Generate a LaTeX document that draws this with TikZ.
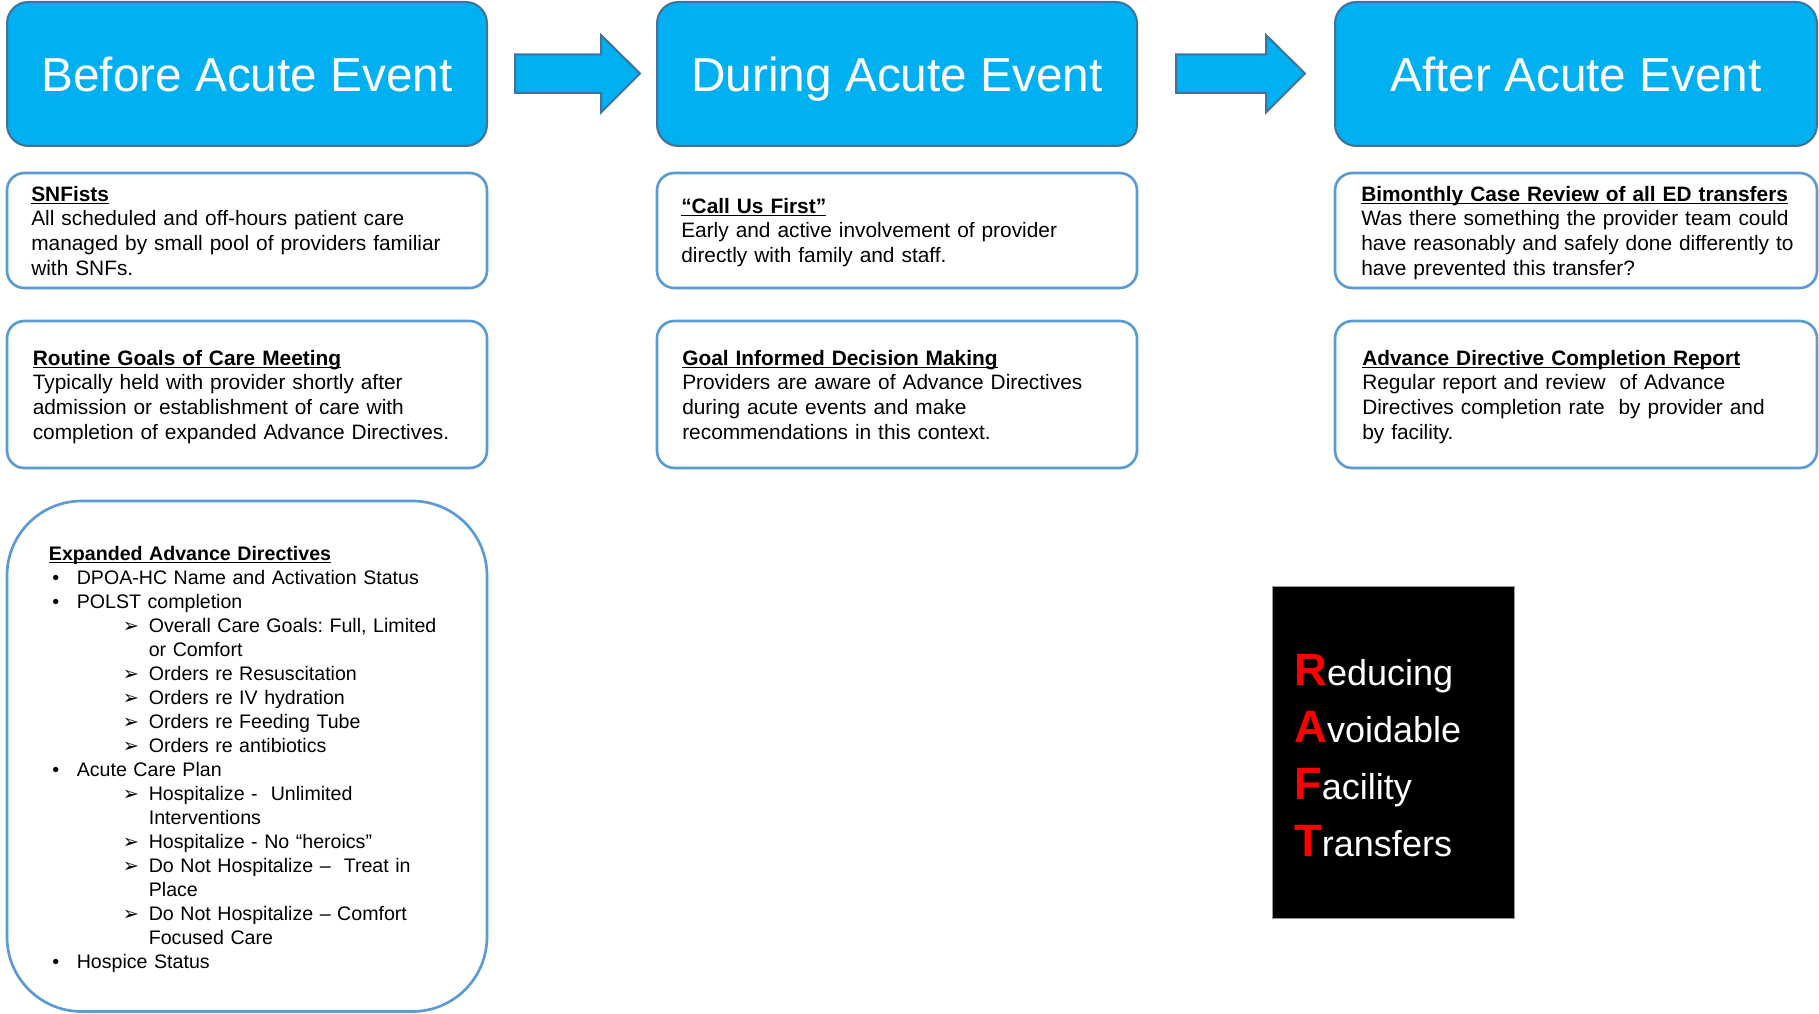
\documentclass[tikz,border=0pt]{standalone}
\usepackage{fontspec}
\setmainfont{Liberation Sans}
\newfontfamily\arrowfont{DejaVu Sans}
\frenchspacing
\definecolor{hdrfill}{HTML}{00B0F0}
\definecolor{hdrline}{HTML}{41719C}
\definecolor{boxline}{HTML}{5B9BD5}
\definecolor{raftred}{HTML}{FF0000}
\newcommand\myul[1]{\setbox0\hbox{#1}\rlap{\rule[-2.6pt]{\wd0}{1.1pt}}\box0}
\newcommand\mbul{\hspace*{2.5pt}\makebox[18.4pt][l]{•}}
\newcommand\marr{\hspace*{55.5pt}\makebox[19.4pt][l]{\arrowfont\fontsize{14.5}{14.5}\selectfont\raisebox{-0.4pt}{➢}}}
\newcommand\mcont{\hspace*{74.9pt}}
\tikzset{
  hdrbox/.style={draw=hdrline, fill=hdrfill, line width=1.5pt, rounded corners=16pt},
  blockarrow/.style={draw=hdrline, fill=hdrfill, line width=1.5pt},
  infobox/.style={draw=boxline, line width=2pt, rounded corners=13pt},
  hdrtext/.style={text=white, font=\fontsize{35.8}{43}\selectfont, anchor=base, inner sep=0pt},
  bodytext/.style={anchor=base west, inner sep=0pt, text width=480pt, align=left, font=\fontsize{15.65}{18.5}\selectfont\frenchspacing},
  listtext/.style={anchor=base west, inner sep=0pt, text width=480pt, align=left, font=\fontsize{14.7}{18}\selectfont\frenchspacing},
  rafttext/.style={anchor=base west, inner sep=0pt, text width=200pt, align=left, text=white, font=\fontsize{27}{42.75}\selectfont},
}
\newcommand\rl[1]{\textcolor{raftred}{\fontsize{34}{40}\selectfont\bfseries #1}}
\begin{document}
\begin{tikzpicture}[x=0.75pt, y=-0.75pt]
\useasboundingbox (0,0) rectangle (1819,1013);
% headers
\draw[hdrbox] (7,2) rectangle (487,146);
\draw[hdrbox] (657,2) rectangle (1137,146);
\draw[hdrbox] (1335,2) rectangle (1817,146);
\node[hdrtext] (h1) at (247,91.5) {Before Acute Event};
\node[hdrtext] (h2) at (897,91.5) {During Acute Event};
\node[hdrtext] (h3) at (1576,91.5) {After Acute Event};
% block arrows
\draw[blockarrow] (515,54.5) -- (601,54.5) -- (601,35) -- (640,73.5) -- (601,112.5) -- (601,93) -- (515,93) -- cycle;
\draw[blockarrow] (1176,54.5) -- (1266,54.5) -- (1266,35) -- (1305,73.5) -- (1266,112.5) -- (1266,93) -- (1176,93) -- cycle;
% row 2 boxes
\draw[infobox] (7,173) rectangle (487,288);
\draw[infobox] (657,173) rectangle (1137,288);
\draw[infobox] (1335,173) rectangle (1817,288);
\node[bodytext] (t11) at (31,201) {\myul{\textbf{SNFists}}\\
All scheduled and off-hours patient care\\
managed by small pool of providers familiar\\
with SNFs.};
\node[bodytext] (t12) at (681,213) {\myul{\textbf{“Call Us First”}}\\
Early and active involvement of provider\\
directly with family and staff.};
\node[bodytext] (t13) at (1361,201) {\myul{\textbf{Bimonthly Case Review of all ED transfers}}\\
Was there something the provider team could\\
have reasonably and safely done differently to\\
have prevented this transfer?};
% row 3 boxes
\draw[infobox] (7,321) rectangle (487,468);
\draw[infobox] (657,321) rectangle (1137,468);
\draw[infobox] (1335,321) rectangle (1817,468);
\node[bodytext] (t21) at (32.5,365) {\myul{\textbf{Routine Goals of Care Meeting}}\\
Typically held with provider shortly after\\
admission or establishment of care with\\
completion of expanded Advance Directives.};
\node[bodytext] (t22) at (682,365) {\myul{\textbf{Goal Informed Decision Making}}\\
Providers are aware of Advance Directives\\
during acute events and make\\
recommendations in this context.};
\node[bodytext] (t23) at (1362,365) {\myul{\textbf{Advance Directive Completion Report}}\\
Regular report and review \ of Advance\\
Directives completion rate \ by provider and\\
by facility.};
% big box
\draw[infobox, rounded corners=56pt] (7,501) rectangle (487,1011.5);
\node[listtext] (lst) at (48.7,560) {\myul{\textbf{Expanded Advance Directives}}\\
\mbul DPOA-HC Name and Activation Status\\
\mbul POLST completion\\
\marr Overall Care Goals: Full, Limited\\
\mcont or Comfort\\
\marr Orders re Resuscitation\\
\marr Orders re IV hydration\\
\marr Orders re Feeding Tube\\
\marr Orders re antibiotics\\
\mbul Acute Care Plan\\
\marr Hospitalize - \ Unlimited\\
\mcont Interventions\\
\marr Hospitalize - No “heroics”\\
\marr Do Not Hospitalize – \ Treat in\\
\mcont Place\\
\marr Do Not Hospitalize – Comfort\\
\mcont Focused Care\\
\mbul Hospice Status};
% RAFT
\draw[fill=black, draw=black!40, line width=0.5pt] (1272.5,586) rectangle (1514,918);
\node[rafttext] (raft) at (1294,685) {\rl{R}educing\\
\rl{A}voidable\\
\rl{F}acility\\
\rl{T}ransfers};
\end{tikzpicture}
\end{document}
